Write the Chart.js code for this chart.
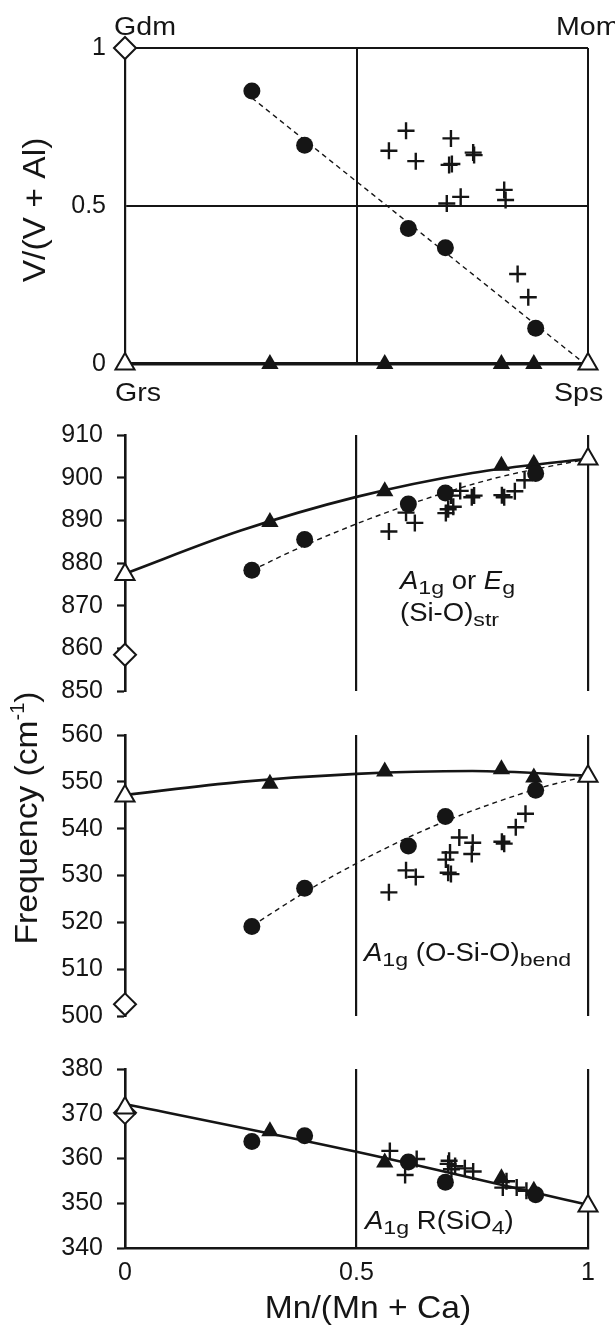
<!DOCTYPE html>
<html>
<head>
<meta charset="utf-8">
<script src="https://cdn.jsdelivr.net/npm/chart.js@4.4.1/dist/chart.umd.min.js"></script>
<style>
  html, body { margin: 0; padding: 0; background: #fff; }
  #wrap { position: relative; width: 615px; height: 1327px; overflow: hidden; }
  #wrap canvas { position: absolute; left: 0; }
</style>
</head>
<body>
<div id="wrap">
  <canvas id="pVA" width="615" height="410" style="top:0px"></canvas>
  <canvas id="pStr" width="615" height="320" style="top:400px"></canvas>
  <canvas id="pBend" width="615" height="365" style="top:680px"></canvas>
  <canvas id="pRot" width="615" height="287" style="top:1040px"></canvas>
</div>
<script>
// ---------- data (x = Mn/(Mn + Ca)) ----------
const xCircle = [0.274, 0.388, 0.612, 0.692, 0.887];
const xTriFilled = [0.313, 0.561, 0.813, 0.883];
const xEnd = [0, 1];        // open triangles: Grs, Sps
const xGdm = [0];           // open diamond: Gdm

// panel 1: V/(V + Al)
const vaCircle = [0.864, 0.692, 0.429, 0.368, 0.113];
const vaTriFilled = [0, 0, 0, 0];
const vaEnd = [0, 0];
const vaGdm = [1];
const vaCrossX = [0.570, 0.607, 0.628, 0.695, 0.700, 0.704, 0.706, 0.725, 0.752, 0.754, 0.819, 0.822, 0.848, 0.871];
const vaCrossY = [0.675, 0.738, 0.642, 0.508, 0.630, 0.714, 0.633, 0.529, 0.669, 0.661, 0.551, 0.519, 0.285, 0.211];
const vaDashX = [0.274, 0.985];
const vaDashY = [0.842, 0.01];

// panel 2: A1g or Eg (Si-O)str
const strCircle = [878.3, 885.5, 893.8, 896.4, 901.0];
const strTriFilled = [889.6, 896.8, 902.8, 903.2];
const strEnd = [877.3, 904.4];
const strGdm = [858.5];
const strCrossX = [0.570, 0.607, 0.626, 0.693, 0.698, 0.709, 0.704, 0.724, 0.749, 0.754, 0.814, 0.819, 0.842, 0.863];
const strCrossY = [887.4, 891.8, 889.4, 891.7, 892.6, 893.2, 895.8, 896.9, 895.4, 895.8, 895.9, 895.4, 896.8, 899.4];
const strSolidX = [0, 0.25, 0.5, 0.75, 1];
const strSolidY = [877.5, 887.6, 895.5, 901.1, 904.5];
const strDashX = [0.274, 0.4, 0.6, 0.8, 1];
const strDashY = [878.3, 884.7, 893.2, 899.9, 904.4];

// panel 3: A1g (O-Si-O)bend
const bendCircle = [519.1, 527.3, 536.3, 542.6, 548.2];
const bendTriFilled = [549.6, 552.2, 552.7, 550.9];
const bendEnd = [547.0, 551.2];
const bendGdm = [502.5];
const bendCrossX = [0.570, 0.607, 0.628, 0.693, 0.702, 0.698, 0.704, 0.722, 0.751, 0.749, 0.814, 0.819, 0.844, 0.865];
const bendCrossY = [526.4, 531.1, 529.7, 533.4, 534.9, 530.6, 530.3, 538.1, 537.0, 534.6, 537.2, 536.8, 540.3, 543.2];
const bendSolidX = [0, 0.25, 0.5, 0.75, 1];
const bendSolidY = [547.2, 550.0, 551.7, 552.3, 551.3];
const bendDashX = [0.275, 0.4, 0.5, 0.6, 0.7, 0.8, 0.9, 1];
const bendDashY = [519.3, 527.1, 532.6, 537.6, 541.9, 545.6, 548.8, 551.3];

// panel 4: A1g R(SiO4)
const rotCircle = [363.8, 365.1, 359.2, 354.7, 351.9];
const rotTriFilled = [366.1, 359.1, 355.6, 352.8];
const rotEnd = [371.3, 349.4];
const rotGdm = [370.2];
const rotCrossX = [0.572, 0.605, 0.630, 0.698, 0.700, 0.705, 0.713, 0.734, 0.752, 0.816, 0.824, 0.846, 0.867];
const rotCrossY = [361.7, 356.3, 359.9, 358.8, 359.5, 357.6, 358.3, 357.8, 357.1, 353.5, 354.9, 353.5, 352.8];
const rotSolidX = [0, 0.5, 1];
const rotSolidY = [372.2, 361.5, 349.6];

const xTicks = [0, 0.5, 1];

// ---------- styling ----------
const FONT = '"Liberation Sans", Arial, Helvetica, sans-serif';
const INK = '#151515';
const NONE = 'rgba(0,0,0,0)';
const TICK_FONT = { family: FONT, size: 25 };

function pts(xs, ys) {
  return xs.map((x, i) => ({ x: x, y: ys[i] }));
}

function markers(m) {
  const base = { showLine: false, clip: false, pointHoverRadius: 0 };
  return [
    Object.assign({ data: pts(xEnd, m.end), pointStyle: 'triangle', pointRadius: 11,
      pointBackgroundColor: '#fff', pointBorderColor: INK, pointBorderWidth: 2, order: 1 }, base),
    Object.assign({ data: pts(xGdm, m.gdm), pointStyle: 'rectRot', pointRadius: 11,
      pointBackgroundColor: '#fff', pointBorderColor: INK, pointBorderWidth: 2, order: 2 }, base),
    Object.assign({ data: pts(xCircle, m.circle), pointStyle: 'circle', pointRadius: 8.5,
      pointBackgroundColor: INK, pointBorderColor: INK, pointBorderWidth: 0, order: 3 }, base),
    Object.assign({ data: pts(xTriFilled, m.tri), pointStyle: 'triangle', pointRadius: 10,
      pointBackgroundColor: INK, pointBorderColor: INK, pointBorderWidth: 0, order: 4 }, base),
    Object.assign({ data: pts(m.crossX, m.crossY), pointStyle: 'cross', pointRadius: 8.5,
      pointBorderColor: INK, pointBorderWidth: 2.4, order: 5 }, base)
  ];
}

function fitLine(xs, ys, dashed) {
  return {
    data: pts(xs, ys), showLine: true, clip: false, pointRadius: 0, pointHoverRadius: 0,
    borderColor: INK, borderWidth: dashed ? 1.4 : 2.6, borderDash: dashed ? [5, 4] : [],
    cubicInterpolationMode: 'monotone', order: 6
  };
}

// rich text (italics, subscripts, superscripts) drawn on the canvas
function T(t, size) { return { t: t, size: size || 25, sx: 1.1 }; }
function I(t, size) { return { t: t, size: size || 25, sx: 1.1, i: true }; }
function SUB(t) { return { t: t, size: 19, sx: 1.22, dy: 5 }; }
function SUP(t) { return { t: t, size: 20, sx: 1, dy: -13 }; }

function runFont(r) { return (r.i ? 'italic ' : '') + r.size + 'px ' + FONT; }

function drawRich(ctx, note) {
  ctx.save();
  ctx.fillStyle = INK;
  ctx.textBaseline = 'alphabetic';
  ctx.textAlign = 'left';
  let w = 0;
  note.runs.forEach(r => { ctx.font = runFont(r); w += ctx.measureText(r.t).width * (r.sx || 1); });
  ctx.translate(note.x, note.y);
  if (note.rotate) ctx.rotate(-Math.PI / 2);
  let cx = note.align === 'center' ? -w / 2 : 0;
  note.runs.forEach(r => {
    ctx.font = runFont(r);
    const sx = r.sx || 1;
    ctx.save();
    ctx.translate(cx, r.dy || 0);
    ctx.scale(sx, 1);
    ctx.fillText(r.t, 0, 0);
    ctx.restore();
    cx += ctx.measureText(r.t).width * sx;
  });
  ctx.restore();
}

// notes are given in page coordinates; top = canvas offset on the page
function notesPlugin(top, notes) {
  return {
    id: 'notes',
    afterDraw(chart) {
      notes.forEach(n => drawRich(chart.ctx, Object.assign({}, n, { y: n.y - top })));
    }
  };
}

const plainLabel = v => String(v);

function hiddenX(gridWidth) {
  return {
    type: 'linear', min: 0, max: 1,
    afterFit: s => { s.height = 0; },
    afterBuildTicks: s => { s.ticks = xTicks.map(v => ({ value: v })); },
    ticks: { display: false },
    grid: { drawTicks: false, color: c => c.tick.value === 0 ? NONE : INK, lineWidth: gridWidth },
    border: { display: false }
  };
}

function freqY(min, max) {
  return {
    min: min, max: max,
    afterFit: s => { s.width = 125; },
    ticks: { stepSize: 10, padding: 14, color: INK, font: TICK_FONT, callback: plainLabel },
    grid: { drawOnChartArea: false, drawTicks: true, tickLength: 8, tickColor: INK, tickWidth: 2.2 },
    border: { display: true, color: INK, width: 2.6 }
  };
}

function baseOptions(padding, scales) {
  return {
    responsive: false,
    animation: false,
    devicePixelRatio: 1,
    events: [],
    layout: { padding: padding },
    plugins: { legend: { display: false }, tooltip: { enabled: false } },
    scales: scales
  };
}

// ---------- panel 1 ----------
new Chart(document.getElementById('pVA'), {
  type: 'scatter',
  data: {
    datasets: markers({ end: vaEnd, gdm: vaGdm, circle: vaCircle, tri: vaTriFilled, crossX: vaCrossX, crossY: vaCrossY })
      .concat([fitLine(vaDashX, vaDashY, true)])
  },
  options: baseOptions({ top: 48, bottom: 46, left: 0, right: 27 }, {
    x: hiddenX(2),
    y: {
      min: 0, max: 1,
      afterFit: s => { s.width = 125; },
      ticks: { stepSize: 0.5, padding: 19, color: INK, font: TICK_FONT, callback: plainLabel },
      grid: { drawTicks: false, color: INK,
        lineWidth: c => c.tick.value === 0 ? 3.6 : 2 },
      border: { display: true, color: INK, width: 2.2 }
    }
  }),
  plugins: [notesPlugin(0, [
    { x: 114, y: 35, runs: [T('Gdm', 26)] },
    { x: 556, y: 35, runs: [T('Mom', 26)] },
    { x: 115, y: 401, runs: [T('Grs', 26)] },
    { x: 554, y: 401, runs: [T('Sps', 26)] },
    { x: 45, y: 210, rotate: true, align: 'center', runs: [{ t: 'V/(V + Al)', size: 32, sx: 1.05 }] }
  ])]
});

// ---------- panel 2 ----------
new Chart(document.getElementById('pStr'), {
  type: 'scatter',
  data: {
    datasets: markers({ end: strEnd, gdm: strGdm, circle: strCircle, tri: strTriFilled, crossX: strCrossX, crossY: strCrossY })
      .concat([fitLine(strSolidX, strSolidY, false), fitLine(strDashX, strDashY, true)])
  },
  options: baseOptions({ top: 35, bottom: 20, left: 0, right: 27 }, {
    x: hiddenX(2.2),
    y: freqY(850, 910)
  }),
  plugins: [notesPlugin(400, [
    { x: 400, y: 589, runs: [I('A'), SUB('1g'), T(' or '), I('E'), SUB('g')] },
    { x: 400, y: 621, runs: [T('(Si-O)'), SUB('str')] }
  ])]
});

// ---------- panel 3 ----------
new Chart(document.getElementById('pBend'), {
  type: 'scatter',
  data: {
    datasets: markers({ end: bendEnd, gdm: bendGdm, circle: bendCircle, tri: bendTriFilled, crossX: bendCrossX, crossY: bendCrossY })
      .concat([fitLine(bendSolidX, bendSolidY, false), fitLine(bendDashX, bendDashY, true)])
  },
  options: baseOptions({ top: 55, bottom: 21, left: 0, right: 27 }, {
    x: hiddenX(2.2),
    y: freqY(500, 560)
  }),
  plugins: [notesPlugin(680, [
    { x: 364, y: 961, runs: [I('A'), SUB('1g'), T(' (O-Si-O)'), SUB('bend')] },
    { x: 37, y: 818, rotate: true, align: 'center',
      runs: [{ t: 'Frequency (cm', size: 32, sx: 1.05 }, SUP('-1'), { t: ')', size: 32, sx: 1.05 }] }
  ])]
});

// ---------- panel 4 ----------
new Chart(document.getElementById('pRot'), {
  type: 'scatter',
  data: {
    datasets: markers({ end: rotEnd, gdm: rotGdm, circle: rotCircle, tri: rotTriFilled, crossX: rotCrossX, crossY: rotCrossY })
      .concat([fitLine(rotSolidX, rotSolidY, false)])
  },
  options: baseOptions({ top: 21, bottom: 0, left: 0, right: 27 }, {
    x: {
      type: 'linear', min: 0, max: 1,
      afterFit: s => { s.height = 79; },
      afterBuildTicks: s => { s.ticks = xTicks.map(v => ({ value: v })); },
      ticks: { padding: 10, maxRotation: 0, color: INK, font: TICK_FONT, callback: plainLabel },
      grid: { drawTicks: false, color: c => c.tick.value === 0 ? NONE : INK, lineWidth: 2.2 },
      border: { display: true, color: INK, width: 2.6 }
    },
    y: freqY(340, 380)
  }),
  plugins: [notesPlugin(1040, [
    { x: 365, y: 1229, runs: [I('A'), SUB('1g'), T(' R(SiO'), SUB('4'), T(')')] },
    { x: 368, y: 1318, align: 'center', runs: [{ t: 'Mn/(Mn + Ca)', size: 32, sx: 1.05 }] }
  ])]
});
</script>
</body>
</html>
